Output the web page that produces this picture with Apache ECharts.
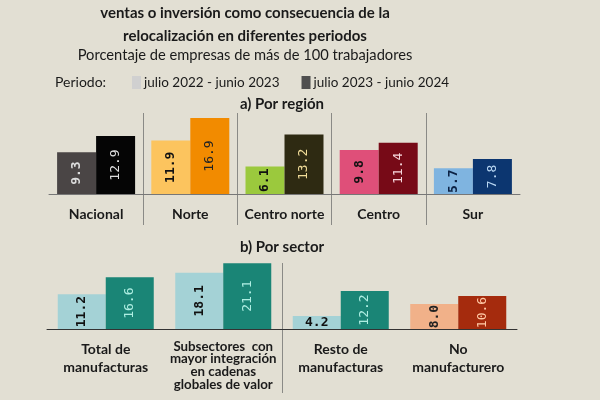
<!DOCTYPE html>
<html><head><meta charset="utf-8">
<script src="https://cdn.jsdelivr.net/npm/echarts@6/dist/echarts.min.js"></script>
<style>html,body{margin:0;padding:0;background:#e2dfd3;}#c{width:600px;height:400px;}</style>
</head><body><div id="c"></div>
<script>
// ---- data ----
const seriesNames = ['julio 2022 - junio 2023', 'julio 2023 - junio 2024'];
const regions = ['Nacional', 'Norte', 'Centro norte', 'Centro', 'Sur'];
const region2223 = [9.3, 11.9, 6.1, 9.8, 5.7];
const region2324 = [12.9, 16.9, 13.2, 11.4, 7.8];
const sectors = ['Total de\nmanufacturas', 'Subsectores  con\nmayor integración\nen cadenas\nglobales de valor', 'Resto de\nmanufacturas', 'No\nmanufacturero'];
const sector2223 = [11.2, 18.1, 4.2, 8.0];
const sector2324 = [16.6, 21.1, 12.2, 10.6];

// ---- styles ----
const regionLightColors = ['#4a4545', '#fcc45e', '#9bc93d', '#df4f79', '#7fb4e0'];
const regionDarkColors = ['#050505', '#f28b00', '#2e2a12', '#770a17', '#0c3670'];
const regionLightLabel = ['#dddddd', '#111111', '#111111', '#111111', '#0c2244'];
const regionDarkLabel = ['#dddddd', '#222222', '#f0dc98', '#f6d6dc', '#b8d6f2'];
const sectorLightColors = ['#a4d2d6', '#a4d2d6', '#a4d2d6', '#f1b189'];
const sectorDarkColors = ['#1a8576', '#1a8576', '#1a8576', '#a52b0d'];
const sectorLightLabel = ['#111111', '#111111', '#111111', '#222222'];
const sectorDarkLabel = ['#aeeee2', '#aeeee2', '#aeeee2', '#ffc9a6'];
const FONT = 'Lato';
const LABELFONT = 'DejaVu Sans Mono';
const TXT = '#1a1a1a';

function items(values, colors, labelColors, bold) {
  return values.map((v, i) => ({
    value: v,
    itemStyle: { color: colors[i] },
    label: {
      color: labelColors[i],
      fontWeight: bold ? 'bold' : 'normal',
      rotate: v < 5 ? 0 : 90
    }
  }));
}

const barLabel = {
  show: true, position: 'inside', rotate: 90,
  fontFamily: LABELFONT, fontSize: 13,
  formatter: p => Number(p.value).toFixed(1)
};

const sepAxis = (gridIndex, data) => ({
  type: 'category', gridIndex, data,
  axisLine: { show: false }, axisTick: { show: false }, axisLabel: { show: false },
  splitLine: { show: true, showMinLine: false, showMaxLine: false, lineStyle: { color: '#8a8a86', width: 1 } }
});

const chart = echarts.init(document.getElementById('c'));
chart.setOption({
  backgroundColor: '#e2dfd3',
  animation: false,
  textStyle: { fontFamily: FONT },
  title: [
    { text: 'ventas o inversión como consecuencia de la\nrelocalización en diferentes periodos',
      left: 245, top: 1.5, textAlign: 'center', padding: 0,
      textStyle: { fontFamily: FONT, fontSize: 15, fontWeight: 'bold', color: TXT, lineHeight: 23 } },
    { text: 'Porcentaje de empresas de más de 100 trabajadores',
      left: 245, top: 46, textAlign: 'center', padding: 0,
      textStyle: { fontFamily: FONT, fontSize: 14.7, fontWeight: 'normal', color: TXT, lineHeight: 18 } },
    { text: 'Periodo:', left: 55, top: 74, padding: 0,
      textStyle: { fontFamily: FONT, fontSize: 14, fontWeight: 'normal', color: TXT, lineHeight: 16 } },
    { text: 'a) Por región', left: 282, top: 96, textAlign: 'center', padding: 0,
      textStyle: { fontFamily: FONT, fontSize: 15, fontWeight: 'bold', color: TXT, lineHeight: 16 } },
    { text: 'b) Por sector', left: 282, top: 239, textAlign: 'center', padding: 0,
      textStyle: { fontFamily: FONT, fontSize: 15, fontWeight: 'bold', color: TXT, lineHeight: 16 } }
  ],
  legend: {
    data: seriesNames, left: 132, top: 75.5, padding: 0,
    itemWidth: 9, itemHeight: 13, itemGap: 22,
    icon: 'rect',
    textStyle: { fontFamily: FONT, fontSize: 13.5, color: TXT, padding: [0, 0, 0, -2] }
  },
  grid: [
    { left: 49, right: 80, top: 113, height: 81, containLabel: false, outerBoundsMode: 'none' },
    { left: 49, right: 80, top: 113, height: 112, containLabel: false, outerBoundsMode: 'none' },
    { left: 47, right: 83, top: 263, height: 66, containLabel: false, outerBoundsMode: 'none' },
    { left: 47, right: 83, top: 263, height: 130, containLabel: false, outerBoundsMode: 'none' }
  ],
  xAxis: [
    { type: 'category', gridIndex: 0, data: regions,
      axisLine: { onZero: false, lineStyle: { color: '#777', width: 1 } },
      axisTick: { show: false },
      axisLabel: { margin: 12, interval: 0, fontFamily: FONT, fontSize: 14, fontWeight: 'bold', color: TXT, lineHeight: 17 },
      splitLine: { show: false } },
    sepAxis(1, regions),
    { type: 'category', gridIndex: 2,
      data: sectors.map((s, i) => i === 1
        ? { value: s, textStyle: { fontSize: 13.3, lineHeight: 12.8 } }
        : { value: s, textStyle: { fontSize: 14, lineHeight: 18 } }),
      axisLine: { onZero: false, lineStyle: { color: '#333', width: 1 } },
      axisTick: { show: false },
      axisLabel: { margin: 11, fontFamily: FONT, fontWeight: 'bold', color: TXT, interval: 0 },
      splitLine: { show: false } },
    sepAxis(3, sectors)
  ],
  yAxis: [
    { type: 'value', gridIndex: 0, min: 0, max: 18, show: false, splitLine: { show: false } },
    { type: 'value', gridIndex: 1, min: 0, max: 1, show: false, splitLine: { show: false } },
    { type: 'value', gridIndex: 2, min: 0, max: 21.2, show: false, splitLine: { show: false } },
    { type: 'value', gridIndex: 3, min: 0, max: 1, show: false, splitLine: { show: false } }
  ],
  series: [
    { name: seriesNames[0], type: 'bar', xAxisIndex: 0, yAxisIndex: 0, barWidth: 39, barGap: '0%',
      itemStyle: { color: '#d0d0d0' }, label: barLabel,
      data: items(region2223, regionLightColors, regionLightLabel, true) },
    { name: seriesNames[1], type: 'bar', xAxisIndex: 0, yAxisIndex: 0, barWidth: 39, barGap: '0%',
      itemStyle: { color: '#4f4f4f' }, label: barLabel,
      data: items(region2324, regionDarkColors, regionDarkLabel, false) },
    { name: seriesNames[0], type: 'bar', xAxisIndex: 2, yAxisIndex: 2, barWidth: 48, barGap: '0%',
      itemStyle: { color: '#d0d0d0' }, label: barLabel,
      data: items(sector2223, sectorLightColors, sectorLightLabel, true) },
    { name: seriesNames[1], type: 'bar', xAxisIndex: 2, yAxisIndex: 2, barWidth: 48, barGap: '0%',
      itemStyle: { color: '#4f4f4f' }, label: barLabel,
      data: items(sector2324, sectorDarkColors, sectorDarkLabel, false) }
  ]
});
</script></body></html>
